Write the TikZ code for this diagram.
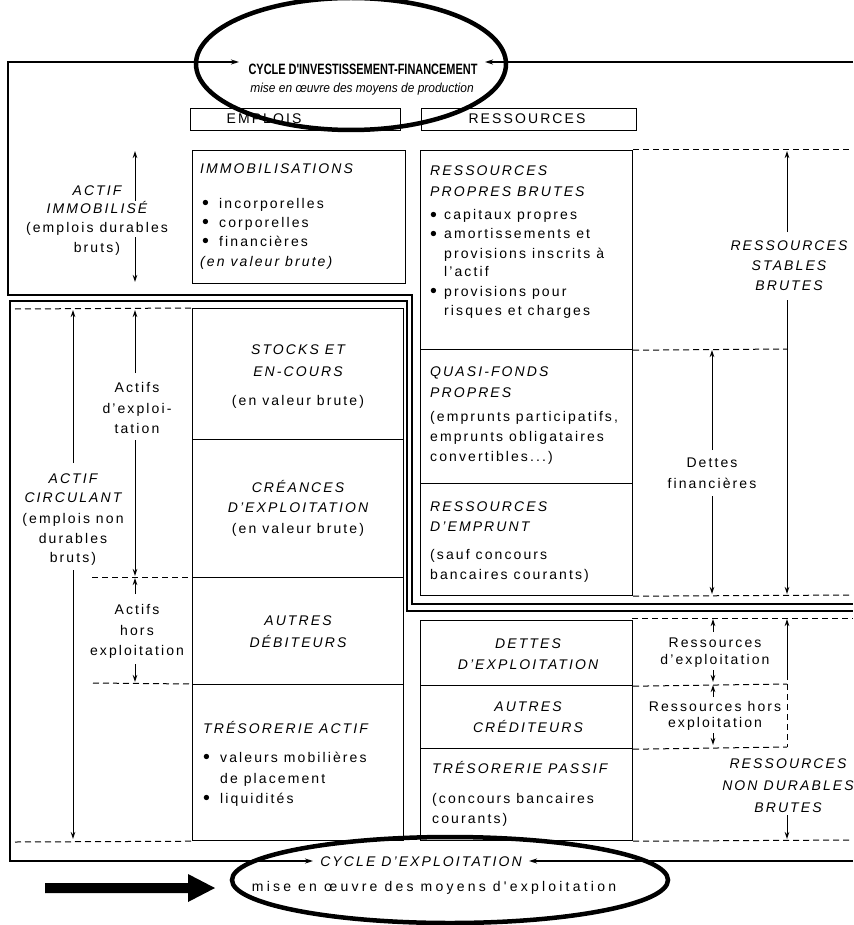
\documentclass[tikz,border=0pt]{standalone}
\usepackage{fontspec}
\setmainfont{Liberation Sans}[LetterSpace=15]
\newfontfamily\condsans{Liberation Sans}[FakeStretch=0.73]
\newfontfamily\semisans{Liberation Sans}[FakeStretch=0.92]
\newfontfamily\widesans{Liberation Sans}[LetterSpace=23]
\usetikzlibrary{arrows.meta,shapes.geometric}
\newcommand\bigdot{\raisebox{-1.6pt}{\scalebox{1.4}{•}}}
\newcommand\blt{\makebox[17pt][l]{\bigdot}}
\newcommand\bltr{\makebox[14pt][l]{\bigdot}}
\tikzset{
  txt/.style={inner sep=0pt, font=\fontsize{14}{18}\selectfont},
  itx/.style={inner sep=0pt, font=\fontsize{14}{18}\selectfont\itshape},
  lt/.style={anchor=base west},
  ct/.style={anchor=base},
  boxr/.style={draw, line width=1.2pt, inner sep=0pt, anchor=north west, rectangle},
  dsh/.style={line width=1pt, dash pattern=on 6pt off 4pt},
  arr/.style={line width=1pt, -{Stealth[length=7pt,width=4.5pt]}},
  frm/.style={line width=1.7pt},
  cyc/.style={draw, ellipse, line width=4.5pt, inner sep=0pt},
}
\begin{document}
\begin{tikzpicture}[x=1pt,y=-1pt]
\useasboundingbox (0,0) rectangle (853,925);
\clip (0,0) rectangle (853,925);
\fill[white] (0,0) rectangle (853,925);

% ---------- boxes ----------
\node[boxr, minimum width=210pt, minimum height=22pt] (emb) at (190,108) {};
\node[boxr, minimum width=215pt, minimum height=22pt] (rsb) at (421,108) {};
\node[boxr, minimum width=213pt, minimum height=133pt] (immo) at (192,150) {};
\node[boxr, minimum width=212pt, minimum height=199pt] (rpb) at (420,150) {};
\node[boxr, minimum width=211pt, minimum height=131pt] (stk) at (192,308) {};
\node[boxr, minimum width=211pt, minimum height=138pt] (cre) at (192,439) {};
\node[boxr, minimum width=211pt, minimum height=107pt] (aut) at (192,577) {};
\node[boxr, minimum width=211pt, minimum height=156pt] (tra) at (192,684) {};
\node[boxr, minimum width=212pt, minimum height=134pt] (qfp) at (420,349) {};
\node[boxr, minimum width=212pt, minimum height=112pt] (rde) at (420,483) {};
\node[boxr, minimum width=212pt, minimum height=65pt] (dex) at (420,620) {};
\node[boxr, minimum width=212pt, minimum height=63pt] (acr) at (420,685) {};
\node[boxr, minimum width=212pt, minimum height=92pt] (trp) at (420,748) {};

% ---------- dashed guide lines ----------
\draw[dsh] (15,309) -- (stk.north west);
\draw[dsh] (92,577) -- (aut.north west);
\draw[dsh] (93,683) -- (tra.north west);
\draw[dsh] (15,842) -- (tra.south west);
\draw[dsh] (rpb.north east) -- (853,150);
\draw[dsh] (rpb.south east) -- (787,349);
\draw[dsh] (rde.south east) -- (853,595);
\draw[dsh] (632,618) -- (853,618);
\draw[dsh] (dex.south east) -- (787,684);
\draw[dsh] (acr.south east) -- (787,747);
\draw[dsh] (787,684) -- (787,747);
\draw[dsh] (trp.south east) -- (853,840);

% ---------- frames of the two cycles ----------
\coordinate (upA) at (239,62);
\coordinate (upB) at (485,62);
\coordinate (loA) at (313,861);
\coordinate (loB) at (529,861);
\draw[frm, {Stealth[length=8pt,width=5pt]}-] (upA) -- (8,62) -- (8,295) -- (412,295) -- (412,604) -- (853,604);
\draw[frm, -{Stealth[length=8pt,width=5pt]}] (853,62) -- (upB);
\draw[frm, {Stealth[length=8pt,width=5pt]}-] (loA) -- (10,861) -- (10,301) -- (407,301) -- (407,611) -- (853,611);
\draw[frm, -{Stealth[length=8pt,width=5pt]}] (853,861) -- (loB);

% ---------- vertical range arrows ----------
\draw[arr] (135,201) -- (135,151);
\draw[arr] (135,237) -- (135,282);
\draw[arr] (73,463) -- (73,310);
\draw[arr] (73,570) -- (73,839);
\draw[arr] (135,373) -- (135,310);
\draw[arr] (135,440) -- (135,576);
\draw[arr] (135,594) -- (135,578);
\draw[arr] (135,664) -- (135,682);
\draw[arr] (787,232) -- (787,151);
\draw[arr] (787,300) -- (787,594);
\draw[arr] (712,450) -- (712,350);
\draw[arr] (712,496) -- (712,594);
\draw[arr] (713,632) -- (713,619);
\draw[arr] (713,670) -- (713,682);
\draw[arr] (713,697) -- (713,685);
\draw[arr] (713,733) -- (713,745);
\draw[arr] (787,680) -- (787,619);
\draw[arr] (787,815) -- (787,839);

% ---------- header texts ----------
\node[txt,ct] (temp) at (264,124) {EMPLOIS};
\node[txt,ct] (tres) at (527,124) {RESSOURCES};

% ---------- left labels ----------
\node[itx,ct] (ai1) at (97,196) {ACTIF};
\node[itx,ct] (ai2) at (97,214) {IMMOBILISÉ};
\node[txt,ct] (ai3) at (97,233) {(emplois durables};
\node[txt,ct] (ai4) at (97,252) {bruts)};

\node[itx,ct] (ac1) at (73,483) {ACTIF};
\node[itx,ct] (ac2) at (73,502) {CIRCULANT};
\node[txt,ct] (ac3) at (73,523) {(emplois non};
\node[txt,ct] (ac4) at (73,543) {durables};
\node[txt,ct] (ac5) at (73,562) {bruts)};

\node[txt,ct] (ae1) at (137,392) {Actifs};
\node[txt,ct] (ae2) at (137,413) {d'exploi-};
\node[txt,ct] (ae3) at (137,433) {tation};

\node[txt,ct] (ah1) at (137,614) {Actifs};
\node[txt,ct] (ah2) at (137,635) {hors};
\node[txt,ct] (ah3) at (137,655) {exploitation};

% ---------- emplois boxes ----------
\node[itx,lt] (im0) at (200,174) {IMMOBILISATIONS};
\node[txt,lt] (im1) at (202,208) {\blt incorporelles};
\node[txt,lt] (im2) at (202,227) {\blt corporelles};
\node[txt,lt] (im3) at (202,246) {\blt financières};
\node[itx,lt] (im4) at (200,266) {(en valeur brute)};

\node[itx,ct] (sk1) at (298,354) {STOCKS ET};
\node[itx,ct] (sk2) at (298,376) {EN-COURS};
\node[txt,ct] (sk3) at (298,405) {(en valeur brute)};

\node[itx,ct] (cr1) at (298,492) {CRÉANCES};
\node[itx,ct] (cr2) at (298,512) {D'EXPLOITATION};
\node[txt,ct] (cr3) at (298,533) {(en valeur brute)};

\node[itx,ct] (ad1) at (298,625) {AUTRES};
\node[itx,ct] (ad2) at (298,647) {DÉBITEURS};

\node[itx,lt] (ta0) at (203,733) {TRÉSORERIE ACTIF};
\node[txt,lt] (ta1) at (203,762) {\blt valeurs mobilières};
\node[txt,lt] (ta2) at (220,783) {de placement};
\node[txt,lt] (ta3) at (203,803) {\blt liquidités};

% ---------- ressources boxes ----------
\node[itx,lt] (rp1) at (430,176) {RESSOURCES};
\node[itx,lt] (rp2) at (430,197) {PROPRES BRUTES};
\node[txt,lt] (rp3) at (430,220) {\bltr capitaux propres};
\node[txt,lt] (rp4) at (430,239) {\bltr amortissements et};
\node[txt,lt] (rp5) at (444,258) {provisions inscrits à};
\node[txt,lt] (rp6) at (444,276) {l'actif};
\node[txt,lt] (rp7) at (430,296) {\bltr provisions pour};
\node[txt,lt] (rp8) at (444,315) {risques et charges};

\node[itx,lt] (qf1) at (430,376) {QUASI-FONDS};
\node[itx,lt] (qf2) at (430,397) {PROPRES};
\node[txt,lt] (qf3) at (430,421) {(emprunts participatifs,};
\node[txt,lt] (qf4) at (430,441) {emprunts obligataires};
\node[txt,lt] (qf5) at (430,461) {convertibles...)};

\node[itx,lt] (re1) at (430,511) {RESSOURCES};
\node[itx,lt] (re2) at (430,531) {D'EMPRUNT};
\node[txt,lt] (re3) at (430,559) {(sauf concours};
\node[txt,lt] (re4) at (430,579) {bancaires courants)};

\node[itx,ct] (de1) at (528,648) {DETTES};
\node[itx,ct] (de2) at (528,669) {D'EXPLOITATION};
\node[itx,ct] (ar1) at (528,711) {AUTRES};
\node[itx,ct] (ar2) at (528,732) {CRÉDITEURS};
\node[itx,lt] (tp0) at (432,773) {TRÉSORERIE PASSIF};
\node[txt,lt] (tp1) at (432,803) {(concours bancaires};
\node[txt,lt] (tp2) at (432,823) {courants)};

% ---------- right labels ----------
\node[itx,ct] (rs1) at (789,250) {RESSOURCES};
\node[itx,ct] (rs2) at (789,270) {STABLES};
\node[itx,ct] (rs3) at (789,290) {BRUTES};

\node[txt,ct] (df1) at (712,467) {Dettes};
\node[txt,ct] (df2) at (712,488) {financières};

\node[txt,ct] (rx1) at (715,647) {Ressources};
\node[txt,ct] (rx2) at (715,664) {d'exploitation};
\node[txt,ct] (rh1) at (715,711) {Ressources hors};
\node[txt,ct] (rh2) at (715,727) {exploitation};

\node[itx,ct] (rn1) at (788,768) {RESSOURCES};
\node[itx,ct] (rn2) at (788,790) {NON DURABLES};
\node[itx,ct] (rn3) at (788,812) {BRUTES};

% ---------- cycles ----------
\node[cyc, minimum width=310pt, minimum height=132pt] (cyc1) at (351,64) {};
\node[inner sep=0pt, anchor=base, font=\condsans\bfseries\fontsize{15}{18}\selectfont] (ttl1) at (363,75) {CYCLE D'INVESTISSEMENT-FINANCEMENT};
\node[inner sep=0pt, anchor=base, font=\semisans\itshape\fontsize{13}{16}\selectfont] (ttl2) at (362,93) {mise en œuvre des moyens de production};

\node[cyc, minimum width=436pt, minimum height=86pt] (cyc2) at (450,880) {};
\node[itx,ct] (btl1) at (421,866) {CYCLE D'EXPLOITATION};
\node[inner sep=0pt, anchor=base, font=\widesans\fontsize{14}{18}\selectfont] (btl2) at (434,891) {mise en œuvre des moyens d'exploitation};

% ---------- big arrow ----------
\fill[black] (45,883) -- (188,883) -- (188,874) -- (215,888) -- (188,902) -- (188,893) -- (45,893) -- cycle;
\end{tikzpicture}
\end{document}
